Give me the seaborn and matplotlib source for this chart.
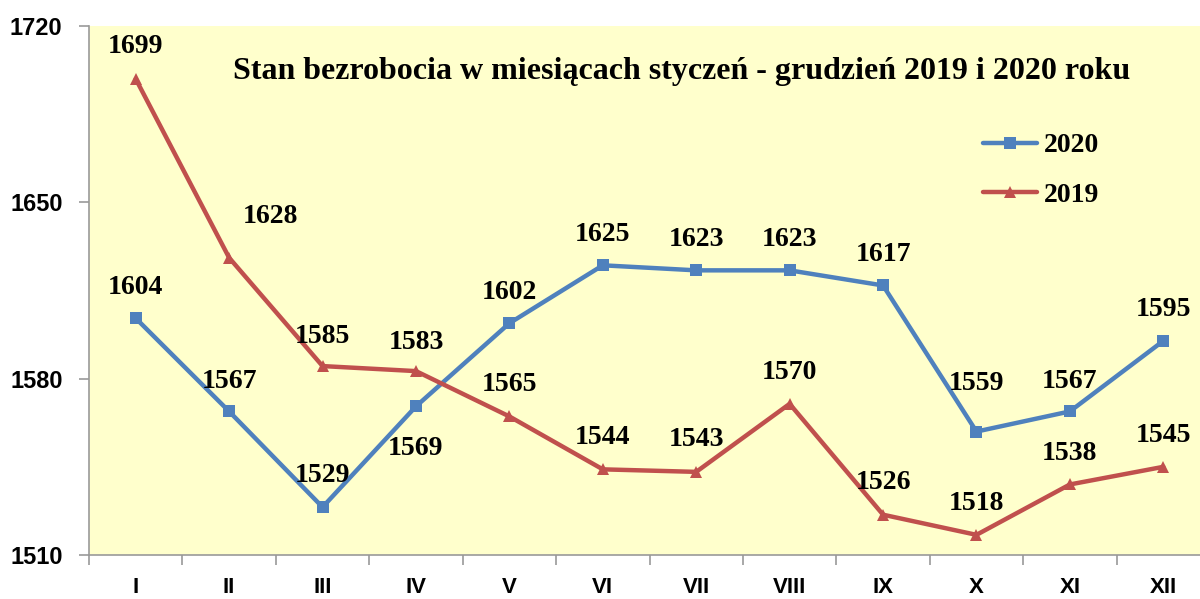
import matplotlib
matplotlib.use('Agg')
import matplotlib.pyplot as plt
import seaborn as sns
import pandas as pd
import numpy as np

months = ['I', 'II', 'III', 'IV', 'V', 'VI', 'VII', 'VIII', 'IX', 'X', 'XI', 'XII']
y2020 = [1604, 1567, 1529, 1569, 1602, 1625, 1623, 1623, 1617, 1559, 1567, 1595]
y2019 = [1699, 1628, 1585, 1583, 1565, 1544, 1543, 1570, 1526, 1518, 1538, 1545]
yticks = [1510, 1580, 1650, 1720]

# label offsets in pixels (dx, dy) relative to the point
off2020 = [(0, 31), (0, 30), (0, 32), (0, -42), (0, 31), (0, 31), (0, 31), (0, 31), (0, 31), (0, 48), (0, 30), (0, 31)]
off2019 = [(0, 32), (41, 41), (0, 30), (0, 29), (0, 32), (0, 32), (0, 32), (0, 31), (0, 32), (0, 31), (0, 31), (0, 31)]

sns.set_style('white')
plt.rcParams['font.family'] = ['Liberation Sans', 'DejaVu Sans']
plt.rcParams['text.color'] = 'black'
plt.rcParams['xtick.labelcolor'] = 'black'
plt.rcParams['ytick.labelcolor'] = 'black'

df = pd.DataFrame({'month': months * 2,
                   'value': y2020 + y2019,
                   'year': ['2020'] * 12 + ['2019'] * 12})
df['x'] = list(range(12)) * 2

blue = '#4F81BD'
red = '#C0504D'

fig = plt.figure(figsize=(12, 5.99), dpi=100)
ax = fig.add_axes([89 / 1200, 1 - 555 / 599, (1210 - 89) / 1200, (555 - 26) / 599])
ax.set_facecolor('#FFFFCC')

sns.lineplot(data=df, x='x', y='value', hue='year', style='year',
             hue_order=['2020', '2019'], style_order=['2020', '2019'],
             palette={'2020': blue, '2019': red},
             markers={'2020': 's', '2019': '^'}, dashes=False,
             linewidth=3.2, markersize=9, markeredgewidth=0, ax=ax)

ax.set_xlim(-0.5, 11.5)
ax.set_ylim(1510, 1720)
ax.set_yticks(yticks)
ax.set_yticklabels([str(t) for t in yticks], fontsize=17, fontweight='bold')
ax.set_xticks(range(12))
ax.set_xticklabels(months, fontsize=16, fontweight='bold')
ax.set_xticks(np.arange(-0.5, 12, 1), minor=True)
ax.tick_params(axis='x', which='major', bottom=True, length=0, pad=16)
ax.tick_params(axis='x', which='minor', bottom=True, length=7, color='#999999', width=1.2, direction='out')
ax.tick_params(axis='y', left=True, length=7, color='#999999', width=1.2, direction='out', pad=12)
ax.set_xlabel('')
ax.set_ylabel('')
for s in ['top', 'right']:
    ax.spines[s].set_visible(False)
for s in ['left', 'bottom']:
    ax.spines[s].set_color('#999999')
    ax.spines[s].set_linewidth(1.2)

for vals, offs in [(y2020, off2020), (y2019, off2019)]:
    for i, (v, (dx, dy)) in enumerate(zip(vals, offs)):
        ax.annotate(str(v), (i, v), xytext=(dx, dy), textcoords='offset pixels',
                    ha='center', va='center', fontsize=20, fontweight='bold',
                    family='Liberation Serif', color='black')

ax.text((682 - 89) / 1121, 1 - (72 - 26) / 529,
        'Stan bezrobocia w miesiącach styczeń - grudzień 2019 i 2020 roku',
        transform=ax.transAxes, ha='center', va='center', fontsize=23,
        fontweight='bold', family='Liberation Serif', color='black')

leg = ax.legend(loc='upper left', bbox_to_anchor=((958 - 89) / 1121, 1 - (108 - 26) / 529),
                frameon=False,
                prop={'family': 'Liberation Serif', 'weight': 'bold', 'size': 20},
                handlelength=1.95, labelspacing=0.85, handletextpad=0.25)

fig.savefig('out.png', dpi=100)
